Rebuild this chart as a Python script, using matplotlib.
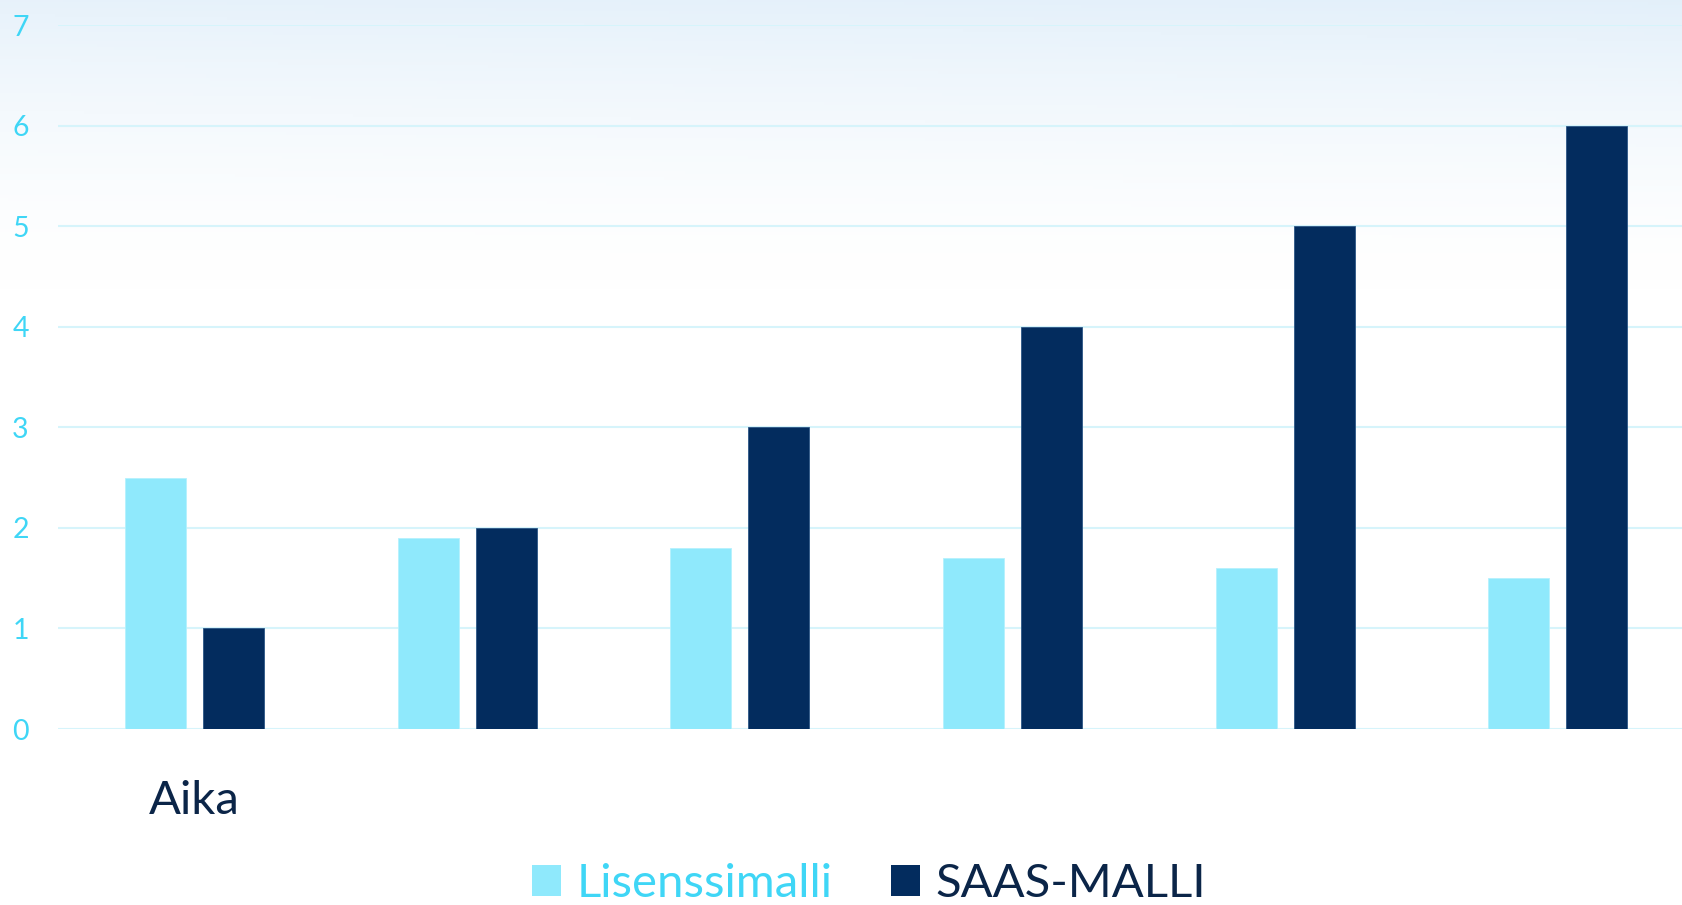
import matplotlib
matplotlib.use("Agg")
import matplotlib.pyplot as plt
import numpy as np
from matplotlib.patches import Patch

categories = ["Aika", "", "", "", "", ""]
lisenssimalli = [2.5, 1.9, 1.8, 1.7, 1.6, 1.5]
saas_malli = [1, 2, 3, 4, 5, 6]
y_ticks = [0, 1, 2, 3, 4, 5, 6, 7]
series_names = ["Lisenssimalli", "SAAS-MALLI"]

LIGHT = "#8fe9fc"
DARK = "#032c5e"
TICK_C = "#3fd6f6"
GRID_C = "#d6f4fb"

plt.rcParams['font.family'] = ['Lato', 'DejaVu Sans']

W, H = 1682, 905
fig = plt.figure(figsize=(W / 100, H / 100), dpi=100)

# soft sky-like background (gradient from pale blue at top to white)
bg = fig.add_axes([0, 0, 1, 1], zorder=-10)
yy = np.linspace(0, 1, 300)[:, None]
xx = np.linspace(0, 1, 400)[None, :]
fade = np.clip(1 - yy / 0.32, 0, 1) ** 1.6
top = np.array([0.89, 0.94, 0.98])
img = np.ones((300, 400, 3))
tint = fade * (0.85 + 0.15 * xx)
for c in range(3):
    img[:, :, c] = 1 - (1 - top[c]) * tint
bg.imshow(img, aspect='auto', extent=[0, 1, 0, 1], origin='upper')
bg.set_axis_off()

left = 58 / W
bottom = 1 - 729 / H
height = (729 - 25) / H
ax = fig.add_axes([left, bottom, 1 - left, height])
ax.patch.set_alpha(0)

x = np.arange(len(categories))
bw = 0.2237
off = 0.143
ax.bar(x - off, lisenssimalli, width=bw, color=LIGHT, edgecolor="#b5f1fd", linewidth=0.6, zorder=3)
ax.bar(x + off, saas_malli, width=bw, color=DARK, edgecolor="#2c5686", linewidth=0.6, zorder=3)

ax.set_xlim(-0.5, -0.5 + (W - 58) / 272.7)
ax.set_ylim(0, 7)
ax.set_yticks(y_ticks)
ax.set_yticklabels([str(v) for v in y_ticks])
ax.set_xticks(x)
ax.set_xticklabels(categories)
ax.yaxis.grid(True, color=GRID_C, linewidth=1.5, zorder=0)
ax.set_axisbelow(True)
for s in ax.spines.values():
    s.set_visible(False)
ax.tick_params(axis='y', length=0, pad=21, labelsize=20.5, labelcolor=TICK_C)
ax.tick_params(axis='x', length=0, pad=37, labelsize=34, labelcolor="#0b2548")

handles = [Patch(facecolor=LIGHT, edgecolor='none'), Patch(facecolor=DARK, edgecolor='none')]
leg = fig.legend(handles, series_names, loc='center', bbox_to_anchor=(869 / W, 1 - 884 / H),
                 ncol=2, frameon=False, fontsize=34, handlelength=0.6, handleheight=0.62,
                 handletextpad=0.33, columnspacing=1.25, borderpad=0)
texts = leg.get_texts()
texts[0].set_color(TICK_C)
texts[1].set_color("#0b2548")

fig.savefig("out.png", dpi=100)
